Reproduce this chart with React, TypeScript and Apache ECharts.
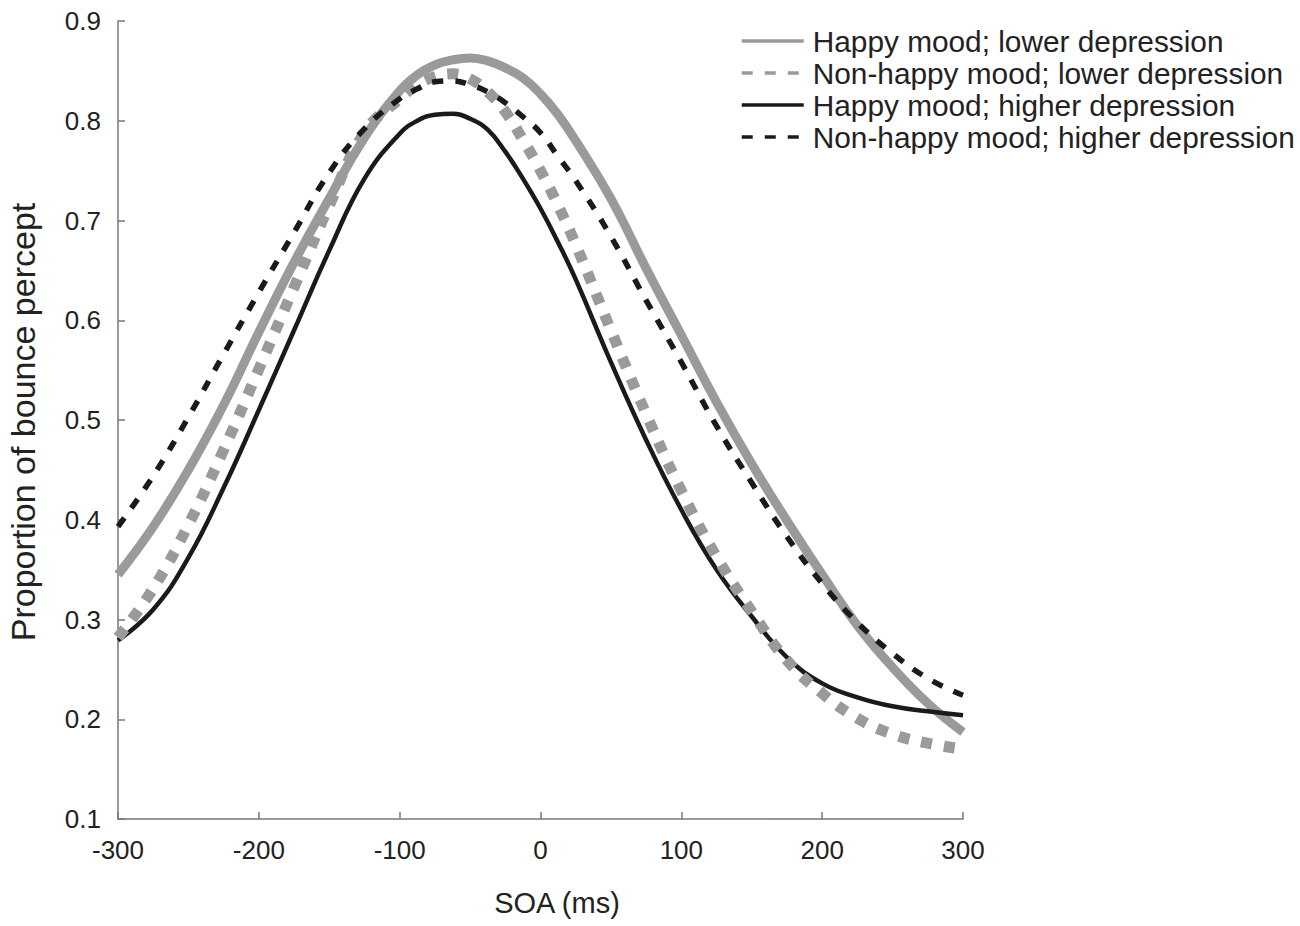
import React, { useEffect, useRef } from "react";
import * as echarts from "echarts";

const soa = [-300, -275, -250, -225, -200, -175, -150, -125, -100, -87.5, -75, -62.5, -50, -37.5, -25, -12.5, 0, 12.5, 25, 50, 75, 100, 125, 150, 175, 200, 225, 250, 275, 300];

const happyLower = [0.345, 0.393, 0.45, 0.515, 0.588, 0.658, 0.722, 0.783, 0.83, 0.846, 0.856, 0.861, 0.863, 0.86, 0.853, 0.843, 0.827, 0.806, 0.78, 0.722, 0.652, 0.585, 0.518, 0.456, 0.399, 0.345, 0.294, 0.252, 0.216, 0.187];
const nonHappyLower = [0.282, 0.331, 0.395, 0.47, 0.551, 0.633, 0.715, 0.788, 0.822, 0.836, 0.844, 0.847, 0.842, 0.829, 0.809, 0.781, 0.75, 0.715, 0.676, 0.59, 0.506, 0.429, 0.363, 0.308, 0.259, 0.226, 0.201, 0.185, 0.176, 0.17];
const happyHigher = [0.279, 0.31, 0.362, 0.432, 0.51, 0.59, 0.67, 0.742, 0.787, 0.8, 0.806, 0.807, 0.802, 0.791, 0.769, 0.742, 0.712, 0.678, 0.641, 0.558, 0.48, 0.41, 0.35, 0.303, 0.262, 0.236, 0.222, 0.213, 0.208, 0.204];
const nonHappyHigher = [0.393, 0.444, 0.503, 0.566, 0.628, 0.688, 0.748, 0.792, 0.822, 0.832, 0.839, 0.84, 0.836, 0.829, 0.818, 0.804, 0.788, 0.764, 0.74, 0.684, 0.62, 0.558, 0.494, 0.437, 0.383, 0.336, 0.297, 0.266, 0.241, 0.224];

const seriesNames = [
  "Happy mood; lower depression",
  "Non-happy mood; lower depression",
  "Happy mood; higher depression",
  "Non-happy mood; higher depression",
];
const xTitle = "SOA (ms)";
const yTitle = "Proportion of bounce percept";

const FONT = "'Liberation Sans', Arial, Helvetica, sans-serif";
const GRAY = "#9a9a9a";
const BLACK = "#1a1a1a";
const AXIS = "#777777";

const pairs = (ys: number[]) => soa.map((x, i) => [x, ys[i]]);

export default function App() {
  const ref = useRef<HTMLDivElement>(null);
  useEffect(() => {
    if (!ref.current) return;
    const chart = echarts.init(ref.current, undefined, { renderer: "svg" });
    const mk = (name: string, ys: number[], color: string, width: number, type: any) => ({
      name,
      type: "line",
      data: pairs(ys),
      smooth: 0.45,
      showSymbol: false,
      symbol: "circle",
      lineStyle: { color, width, type },
      itemStyle: { color },
      emphasis: { disabled: true },
    });
    chart.setOption({
      animation: false,
      backgroundColor: "#ffffff",
      grid: { left: 118, right: 337, top: 21, bottom: 107, containLabel: false },
      xAxis: {
        type: "value",
        min: -300,
        max: 300,
        interval: 100,
        axisLine: { onZero: false, lineStyle: { color: AXIS, width: 1.5 } },
        axisTick: { inside: true, length: 7, lineStyle: { color: AXIS, width: 1.5 } },
        axisLabel: { fontSize: 26, color: "#222", fontFamily: FONT, margin: 18 },
        splitLine: { show: false },
      },
      yAxis: {
        type: "value",
        min: 0.1,
        max: 0.9,
        interval: 0.1,
        axisLine: { show: true, onZero: false, lineStyle: { color: AXIS, width: 1.5 } },
        axisTick: { show: true, inside: true, length: 7, lineStyle: { color: AXIS, width: 1.5 } },
        axisLabel: {
          fontSize: 26,
          color: "#222",
          fontFamily: FONT,
          margin: 17,
          formatter: (v: number) => v.toFixed(1),
        },
        splitLine: { show: false },
      },
      legend: {
        orient: "vertical",
        left: 740,
        top: 26,
        padding: 0,
        itemWidth: 62,
        itemHeight: 14,
        itemGap: 2,
        selectedMode: false,
        data: seriesNames,
        itemStyle: { opacity: 0 },
        lineStyle: { width: 3.5 },
        textStyle: { fontSize: 29.8, color: "#222", fontFamily: FONT, lineHeight: 30, padding: [0, 0, 0, 4] },
      },
      graphic: [
        {
          type: "text",
          x: 557,
          y: 903,
          style: {
            text: xTitle,
            fontSize: 29,
            fontFamily: FONT,
            fill: "#222",
            align: "center",
            verticalAlign: "middle",
          },
        },
        {
          type: "text",
          x: 23,
          y: 422,
          rotation: Math.PI / 2,
          style: {
            text: yTitle,
            fontSize: 34,
            fontFamily: FONT,
            fill: "#222",
            align: "center",
            verticalAlign: "middle",
          },
        },
      ],
      series: [
        mk(seriesNames[0], happyLower, GRAY, 9, "solid"),
        mk(seriesNames[2], happyHigher, BLACK, 4.5, "solid"),
        mk(seriesNames[1], nonHappyLower, GRAY, 11, [11, 12]),
        mk(seriesNames[3], nonHappyHigher, BLACK, 5.5, [11, 12]),
      ],
    });
    return () => chart.dispose();
  }, []);
  return (
    <div
      ref={ref}
      style={{ position: "fixed", left: 0, top: 0, width: 1300, height: 926, background: "#fff" }}
    />
  );
}
